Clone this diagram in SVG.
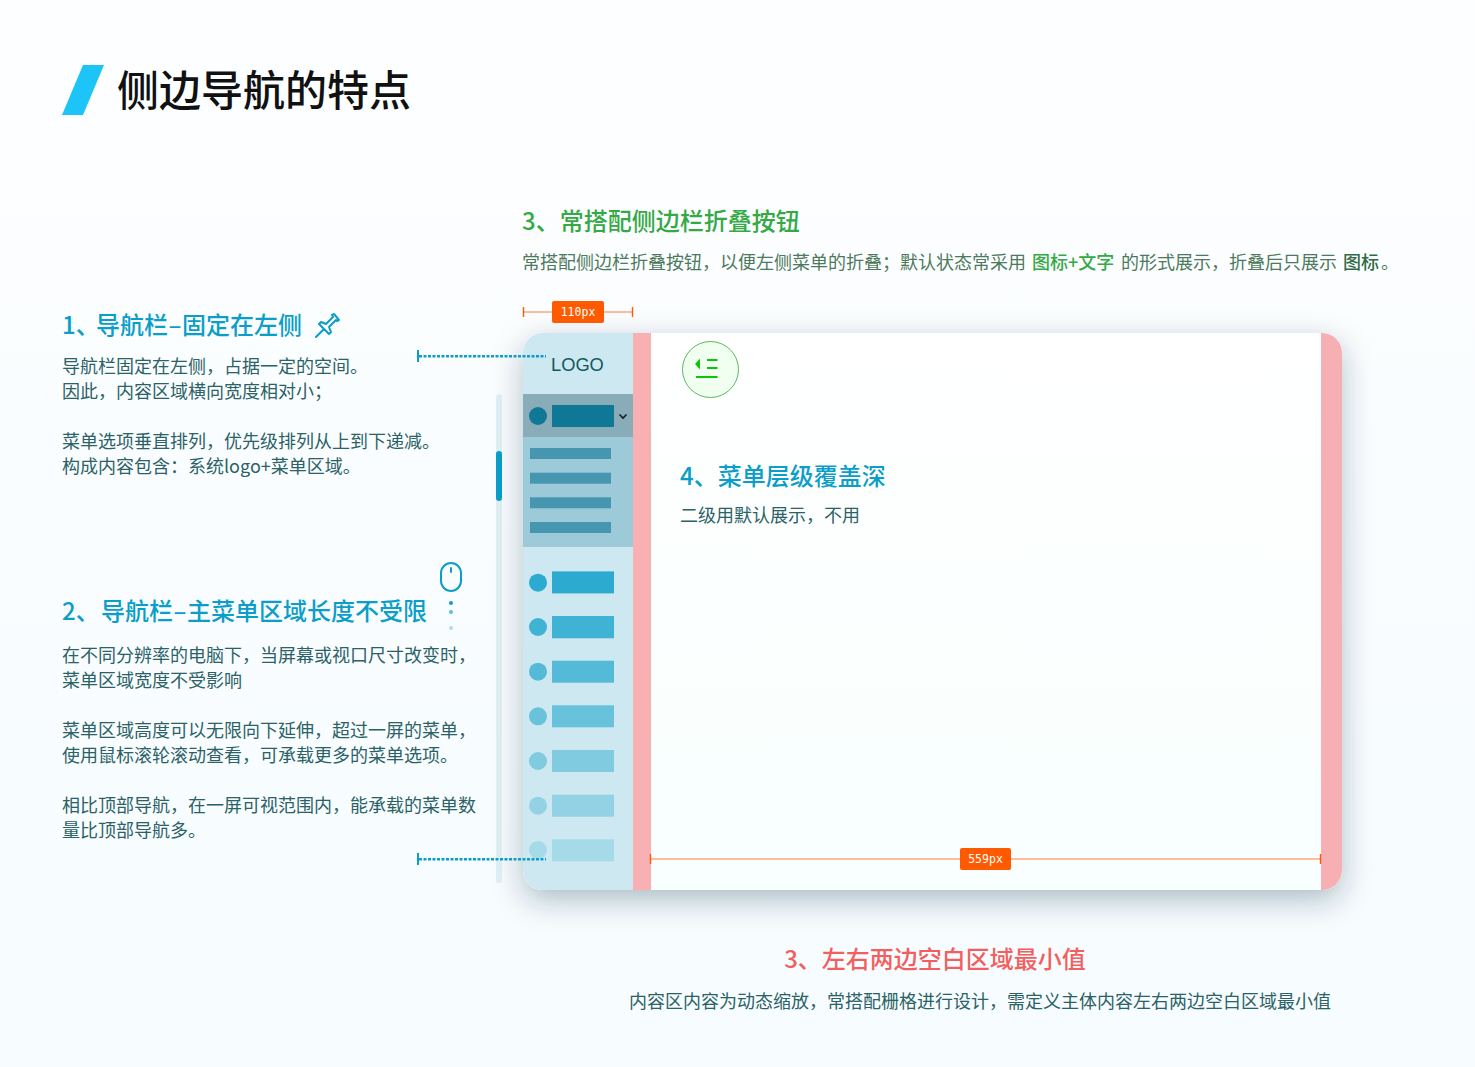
<svg xmlns="http://www.w3.org/2000/svg" width="1475" height="1067" viewBox="0 0 1475 1067">
<style>
text{font-family:"Noto Sans CJK SC","Noto Sans",sans-serif}
.h{font-size:24px;font-weight:500}
.b{font-size:18px;fill:#2b6266}
.blue{fill:#0a9ec9}
.g3{font-size:18px;fill:#4d7a5c}
.badge{fill:#ff5a00}
.bt{font-family:"DejaVu Sans Mono","Liberation Mono",monospace;font-size:11.5px;fill:#fff;text-anchor:middle}
.dl{stroke:#ffa67a;stroke-width:1.6;fill:none}
.cap{stroke:#ff5a00;stroke-width:1.4;fill:none}
.dot{stroke:#0a9ec9;stroke-width:2.4;stroke-dasharray:3 1.5;fill:none}
.capb{stroke:#0a9ec9;stroke-width:2;fill:none}
.bar{fill:#4696b0}
</style>
<defs>
<linearGradient id="bg" x1="0" y1="0" x2="0" y2="1"><stop offset="0" stop-color="#fdfeff"/><stop offset="1" stop-color="#f6fcff"/></linearGradient>
<linearGradient id="card" x1="0" y1="0" x2="0" y2="1"><stop offset="0" stop-color="#ffffff"/><stop offset="1" stop-color="#f8fffe"/></linearGradient>
<filter id="sh" x="-15%" y="-15%" width="130%" height="130%"><feDropShadow dx="0" dy="10" stdDeviation="15" flood-color="#0a3040" flood-opacity=".3"/></filter>
<clipPath id="cc"><rect x="523" y="333" width="819" height="557" rx="20"/></clipPath>
</defs>
<rect width="1475" height="1067" fill="url(#bg)"/>
<g id="title">
<polygon points="83,65 104,65 83,115 62,115" fill="#1cc4f7"/>
<text x="117" y="106" font-size="42" font-weight="500" fill="#111">侧边导航的特点</text>
</g>
<g id="note-1">
<text class="h blue" x="62" y="334">1、<tspan x="96">导航栏</tspan><tspan dx="0.500">–</tspan><tspan dx="0.500">固定在左侧</tspan></text>
<path d="M316 337 L324 329 M321 322 L326 324 L333 317 L332 315 L334 314 L339 320 L337 321 L336 320 L329 327 L331 332 L329 334 L319 324Z" fill="none" stroke="#0a9ec9" stroke-width="2" stroke-linejoin="round" stroke-linecap="round"/>
<text class="b" x="62" y="373">导航栏固定在左侧，占据一定的空间。</text>
<text class="b" x="62" y="398">因此，内容区域横向宽度相对小；</text>
<text class="b" x="62" y="448">菜单选项垂直排列，优先级排列从上到下递减。</text>
<text class="b" x="62" y="473">构成内容包含：系统logo+菜单区域。</text>
</g>
<g id="note-2">
<text class="h blue" x="62" y="620">2、<tspan x="101">导航栏</tspan><tspan dx="0.500">–</tspan><tspan dx="0.500">主菜单区域长度不受限</tspan></text>
<text class="b" x="62" y="662">在不同分辨率的电脑下，当屏幕或视口尺寸改变时，</text>
<text class="b" x="62" y="687">菜单区域宽度不受影响</text>
<text class="b" x="62" y="737">菜单区域高度可以无限向下延伸，超过一屏的菜单，</text>
<text class="b" x="62" y="762">使用鼠标滚轮滚动查看，可承载更多的菜单选项。</text>
<text class="b" x="62" y="812">相比顶部导航，在一屏可视范围内，能承载的菜单数</text>
<text class="b" x="62" y="837">量比顶部导航多。</text>
</g>
<g id="note-3">
<text class="h" x="522" y="230" fill="#35a945">3、常搭配侧边栏折叠按钮</text>
<text class="g3" x="522" y="269">常搭配侧边栏折叠按钮，以便左侧菜单的折叠；默认状态常采用</text>
<text class="g3" x="1032" y="269" style="fill:#35a945;font-weight:500">图标+文字</text>
<text class="g3" x="1121" y="269">的形式展示，折叠后只展示</text>
<text class="g3" x="1343" y="269" style="fill:#2f6b45;font-weight:500">图标</text>
<text class="g3" x="1381" y="269">。</text>
</g>
<g id="scrollbar">
<rect x="496" y="394" width="6" height="489" rx="3" fill="#e0f1f6"/>
<rect x="496" y="451" width="6" height="50" rx="3" fill="#0a9ec9"/>
</g>
<g id="mouse">
<rect x="441" y="563" width="20" height="28" rx="10" fill="none" stroke="#0a9ec9" stroke-width="2"/>
<rect x="450" y="567" width="2" height="6" rx="1" fill="#0a9ec9"/>
<circle cx="451" cy="603" r="2" fill="#0a9ec9"/>
<circle cx="451" cy="612" r="2" fill="#5cbfdc"/>
<circle cx="451" cy="628" r="2" fill="#a9e0ee"/>
</g>
<g id="window">
<rect x="523" y="333" width="819" height="557" rx="20" fill="url(#card)" filter="url(#sh)"/>
<g clip-path="url(#cc)">
<rect x="523" y="333" width="110" height="557" fill="#cde8f0"/>
<rect x="633" y="333" width="18" height="557" fill="#f8b0b3"/>
<rect x="1321" y="333" width="21" height="557" fill="#f6b0b3"/>
</g>
</g>
<g id="logo"><text x="551" y="371" font-size="18.300" fill="#0f5a60" style="font-family:'Liberation Sans',sans-serif">LOGO</text></g>
<g id="menu-active">
<rect x="523" y="394" width="110" height="43" fill="#88acb8"/>
<circle cx="538" cy="416" r="9" fill="#0f7896"/>
<rect x="552" y="405" width="62" height="22" fill="#0f7896"/>
<path d="M619.500 414.500 L623 418 L626.500 414.500" fill="none" stroke="#1a1a1a" stroke-width="1.600"/>
</g>
<g id="submenu">
<rect x="523" y="437" width="110" height="110" fill="#9ccad9"/>
<rect class="bar" x="530" y="448" width="81" height="11"/>
<rect class="bar" x="530" y="472.700" width="81" height="11"/>
<rect class="bar" x="530" y="497.300" width="81" height="11"/>
<rect class="bar" x="530" y="522" width="81" height="11"/>
</g>
<g id="menu-items">
<g fill="#2caad0"><circle cx="538" cy="582.700" r="9"/><rect x="552" y="571.400" width="62" height="22"/></g>
<g fill="#40b2d3"><circle cx="538" cy="627" r="9"/><rect x="552" y="616" width="62" height="22.300"/></g>
<g fill="#54bad8"><circle cx="538" cy="671.700" r="9"/><rect x="552" y="660.700" width="62" height="22"/></g>
<g fill="#69c2dc"><circle cx="538" cy="716.300" r="9"/><rect x="552" y="705.300" width="62" height="22"/></g>
<g fill="#80cbe0"><circle cx="538" cy="761" r="9"/><rect x="552" y="750" width="62" height="22"/></g>
<g fill="#92d2e4"><circle cx="538" cy="805.700" r="9"/><rect x="552" y="794.700" width="62" height="22"/></g>
<g fill="#a5dae8"><circle cx="538" cy="850" r="9"/><rect x="552" y="839.300" width="62" height="22"/></g>
</g>
<g id="collapse-button">
<circle cx="710.500" cy="369.500" r="28" fill="#f1fff0" stroke="#5cb85c" stroke-width="1"/>
<path d="M695 364 L700 358.500 V369.500Z" fill="#0ac60a"/>
<rect x="707" y="359" width="10.500" height="2" fill="#0ac60a"/>
<rect x="707" y="367" width="10.500" height="2" fill="#0ac60a"/>
<rect x="696" y="376" width="21.500" height="2" fill="#0ac60a"/>
</g>
<g id="note-4">
<text class="h blue" x="680" y="485">4、菜单层级覆盖深</text>
<text class="b" x="680" y="522">二级用默认展示，不用</text>
</g>
<g id="note-5">
<text class="h" x="935" y="968" text-anchor="middle" fill="#f35f5f">3、左右两边空白区域最小值</text>
<text class="b" x="980" y="1008" text-anchor="middle">内容区内容为动态缩放，常搭配栅格进行设计，需定义主体内容左右两边空白区域最小值</text>
</g>
<g id="connectors">
<path class="capb" d="M418 350V362"/><path class="dot" d="M419 356.200H546"/>
<path class="capb" d="M418 853V865"/><path class="dot" d="M419 859.200H546"/>
<path class="dl" d="M523 312H633"/><path class="cap" d="M523.500 307V317M632.500 307V317"/>
<path class="dl" d="M651 859H1321"/><path class="cap" d="M650.500 854V864M1320.500 854V864"/>
</g>
<g id="badge-110"><rect class="badge" x="552" y="301" width="52" height="22" rx="2"/><text class="bt" x="578" y="316">110px</text></g>
<g id="badge-559"><rect class="badge" x="960" y="848" width="51" height="22" rx="2"/><text class="bt" x="985.500" y="863">559px</text></g>
</svg>
